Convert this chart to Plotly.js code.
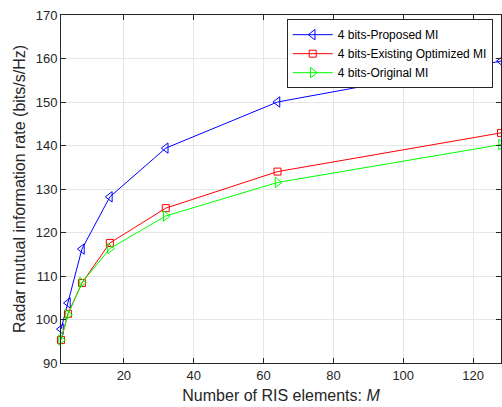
<!DOCTYPE html>
<html><head><meta charset="utf-8">
<script src="https://cdn.plot.ly/plotly-3.0.1.min.js"></script>
<style>html,body{margin:0;padding:0;background:#fff;}#chart{width:502px;height:407px;}</style>
</head><body><div id="chart"></div>
<script>
const M = [2, 4, 8, 16, 32, 64, 128];
const proposed = [97.8, 103.8, 116.2, 128.2, 139.4, 150.0, 159.4];
const existingOpt = [95.3, 101.3, 108.4, 117.6, 125.6, 134.0, 142.9];
const original = [95.3, 101.1, 108.5, 116.3, 123.8, 131.5, 140.2];
const names = ['4 bits-Proposed MI', '4 bits-Existing Optimized MI', '4 bits-Original MI'];

const font = 'Liberation Sans, Arial, Helvetica, sans-serif';
function tr(y, name, color, symbol, size) {
  return {x: M, y: y, name: name, type: 'scatter', mode: 'lines+markers',
    line: {color: color, width: 1},
    marker: {symbol: symbol, size: size, color: color, line: {color: color, width: 1}},
    cliponaxis: false};
}
const data = [
  tr(proposed, names[0], '#0000ff', 'triangle-left-open', 9),
  tr(existingOpt, names[1], '#ff0000', 'square-open', 7),
  tr(original, names[2], '#00ff00', 'triangle-right-open', 9)
];
const axCommon = {showline: true, linecolor: '#262626', linewidth: 1, mirror: 'ticks',
  ticks: 'inside', ticklen: 5, tickcolor: '#262626', showgrid: true, gridcolor: '#e6e6e6',
  zeroline: false, tickfont: {family: font, size: 13, color: '#262626'}};
const layout = {
  width: 502, height: 407,
  margin: {l: 61, r: 1, t: 15, b: 44},
  paper_bgcolor: '#fff', plot_bgcolor: '#fff',
  font: {family: font, color: '#262626'},
  xaxis: Object.assign({}, axCommon, {range: [2, 128], tickvals: [20, 40, 60, 80, 100, 120],
    title: {text: 'Number of RIS elements: <i>M</i>', font: {family: font, size: 16, color: '#262626'}, standoff: 8}}),
  yaxis: Object.assign({}, axCommon, {range: [90, 170], dtick: 10,
    title: {text: 'Radar mutual information rate (bits/s/Hz)', font: {family: font, size: 16, color: '#262626'}, standoff: 6}}),
  legend: {x: 0.513, y: 0.988, xanchor: 'left', yanchor: 'top', bgcolor: '#fff',
    bordercolor: '#262626', borderwidth: 1, font: {family: font, size: 12, color: '#000'},
    tracegroupgap: 0, itemwidth: 40},
  showlegend: true
};
Plotly.newPlot('chart', data, layout, {displayModeBar: false, staticPlot: true});
</script></body></html>
